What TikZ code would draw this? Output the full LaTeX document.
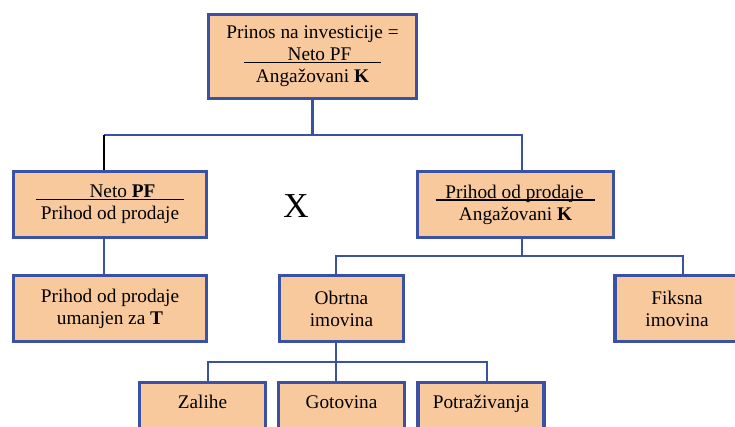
\documentclass[tikz,border=0pt]{standalone}
\usepackage{fontspec}
\setmainfont{Liberation Serif}
\definecolor{boxfill}{HTML}{F8C99C}
\definecolor{boxblue}{HTML}{3B52A4}
\newcommand{\frline}[3]{\setbox0\hbox{\hspace{#1}#2\hspace{#3}}\rlap{\rule[-2.5pt]{\wd0}{1.4pt}}\box0}

\begin{document}
\begin{tikzpicture}[x=1pt,y=-1pt,font=\fontsize{19.3}{22}\selectfont,box/.style={draw=boxblue,fill=boxfill,line width=3.3pt,align=center,inner sep=0pt,minimum height=66},link/.style={draw=boxblue,line width=2.9pt},leaf/.style={box,anchor=north,minimum width=126,text height=26pt,text depth=40pt}]
\useasboundingbox (0,0) rectangle (735,426);
\node[box,minimum width=208,minimum height=84] (inv) at (312.5,56.5) {Prinos na investicije =\\\frline{44pt}{Neto PF}{30pt}\\Angažovani \textbf{K}};
\node[box,minimum width=193] (pf) at (110,204.5) {\frline{54pt}{Neto \textbf{PF}}{29pt}\\Prihod od prodaje};
\node[box,minimum width=196] (r1) at (515.5,204.5) {\frline{9pt}{Prihod od prodaje}{11pt}\\Angažovani \textbf{K}};
\node[font=\fontsize{35}{40}\selectfont] (x) at (296,206) {X};
\node[box,minimum width=193] (l2) at (110,308.5) {Prihod od prodaje\\umanjen za \textbf{T}};
\node[box,minimum width=124] (ob) at (341.5,308.5) {Obrtna\\imovina};
\node[box,minimum width=124] (fk) at (677,308.5) {Fiksna\\imovina};
\node[leaf] (zal) at (202.5,380.5) {Zalihe};
\node[leaf] (got) at (341.5,380.5) {Gotovina};
\node[leaf] (pot) at (481,380.5) {Potraživanja};
% upper level
\coordinate (jl) at (104,135);
\coordinate (jr) at (522,135);
\draw[link] (inv.south) -- (inv.south |- jl);
\draw[link] (jl) -- (jr) -- ([xshift=6.5pt]r1.north);
\draw[line width=2.9pt] (jl) -- ([xshift=-6pt]pf.north);
\draw[link] ([xshift=-6pt]pf.south) -- ([xshift=-6pt]l2.north);
% middle level
\coordinate (ml) at (336,256);
\coordinate (mr) at (683,256);
\draw[link] ([xshift=6.5pt]r1.south) -- ([xshift=6.5pt]r1.south |- ml);
\draw[link] ([xshift=-5.5pt]ob.north) -- (ml) -- (mr) -- ([xshift=6pt]fk.north);
% lower level
\coordinate (bl) at (208,362);
\coordinate (br) at (487,362);
\draw[link] ([xshift=-5.5pt]ob.south) -- ([xshift=-5.5pt]ob.south |- bl);
\draw[link] ([xshift=5.5pt]zal.north) -- (bl) -- (br) -- ([xshift=6pt]pot.north);
\draw[link] ([xshift=-5.5pt]got.north) -- ([xshift=-5.5pt]got.north |- bl);
\end{tikzpicture}
\end{document}
